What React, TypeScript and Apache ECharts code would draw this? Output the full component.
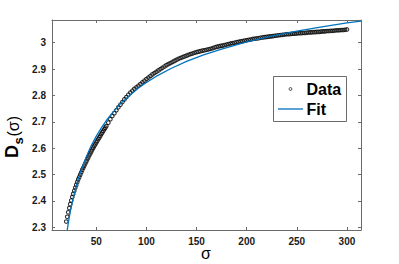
import React, { useEffect, useRef } from "react";
import * as echarts from "echarts";

const sigmaTicks = [50, 100, 150, 200, 250, 300];
const dsTicks = [2.3, 2.4, 2.5, 2.6, 2.7, 2.8, 2.9, 3.0];

// Data: sigma 20..60, step 1
const dataFineStart = 20;
const dataFineStep = 1;
const dataFineValues = [
  2.322, 2.34, 2.357, 2.373, 2.388, 2.402, 2.415, 2.427, 2.439, 2.45,
  2.461, 2.472, 2.482, 2.491, 2.5, 2.509, 2.518, 2.526, 2.534, 2.542,
  2.55, 2.558, 2.565, 2.573, 2.58, 2.588, 2.595, 2.602, 2.609, 2.615,
  2.622, 2.628, 2.635, 2.641, 2.647, 2.654, 2.66, 2.666, 2.672, 2.678,
  2.684,
];

// Data: sigma 62..300, step 2
const dataCoarseStart = 62;
const dataCoarseStep = 2;
const dataCoarseValues = [
  2.697, 2.71, 2.722, 2.733, 2.744, 2.755, 2.765, 2.775, 2.785, 2.794,
  2.803, 2.811, 2.818, 2.825, 2.831, 2.837, 2.843, 2.85, 2.856, 2.862,
  2.868, 2.874, 2.88, 2.885, 2.89, 2.895, 2.9, 2.905, 2.91, 2.915,
  2.919, 2.923, 2.927, 2.931, 2.935, 2.939, 2.942, 2.945, 2.948, 2.951,
  2.954, 2.957, 2.959, 2.962, 2.964, 2.966, 2.968, 2.97, 2.971, 2.973,
  2.975, 2.977, 2.979, 2.982, 2.984, 2.986, 2.988, 2.989, 2.991, 2.993,
  2.995, 2.997, 2.998, 3.0, 3.002, 3.003, 3.005, 3.006, 3.008, 3.009,
  3.011, 3.012, 3.014, 3.015, 3.016, 3.017, 3.019, 3.02, 3.021, 3.022,
  3.023, 3.024, 3.025, 3.026, 3.027, 3.028, 3.029, 3.03, 3.031, 3.032,
  3.032, 3.033, 3.034, 3.034, 3.035, 3.036, 3.036, 3.037, 3.037, 3.038,
  3.039, 3.039, 3.04, 3.04, 3.041, 3.041, 3.042, 3.043, 3.043, 3.044,
  3.044, 3.045, 3.045, 3.046, 3.047, 3.047, 3.048, 3.048, 3.049, 3.05,
];

// Fit curve
const fitSigma = [
  21, 22, 24, 26, 28, 30, 33, 36, 40, 45, 50, 55, 60, 66, 74, 82, 92, 100,
  110, 125, 140, 157, 175, 200, 225, 250, 275, 300, 314,
];
const fitValues = [
  2.29, 2.315, 2.36, 2.395, 2.427, 2.456, 2.495, 2.528, 2.568, 2.61, 2.646,
  2.677, 2.705, 2.734, 2.768, 2.796, 2.828, 2.849, 2.873, 2.903, 2.929,
  2.954, 2.976, 3.003, 3.025, 3.044, 3.06, 3.075, 3.082,
];

const FONT = "'Liberation Sans', Arial, Helvetica, sans-serif";
const FRAME = "#6b6b6b";
const BLUE = "#0072BD";

export default function App() {
  const ref = useRef<HTMLDivElement>(null);

  useEffect(() => {
    if (!ref.current) return;
    const chart = echarts.init(ref.current, null, { renderer: "svg" });

    const dataPoints: number[][] = [];
    dataFineValues.forEach((v, i) =>
      dataPoints.push([dataFineStart + i * dataFineStep, v])
    );
    dataCoarseValues.forEach((v, i) =>
      dataPoints.push([dataCoarseStart + i * dataCoarseStep, v])
    );
    const fitPoints = fitSigma.map((s, i) => [s, fitValues[i]]);

    const xMin = 5.8;
    const xMax = 314;
    const yMin = 2.29;
    const yMax = 3.086;

    const xCommon = {
      type: "value" as const,
      min: xMin,
      max: xMax,
      splitLine: { show: false },
      axisLine: { show: true, lineStyle: { color: FRAME, width: 1 } },
      axisTick: {
        show: true,
        inside: true,
        length: 3,
        customValues: sigmaTicks,
        lineStyle: { color: FRAME, width: 1 },
      },
    };
    const yCommon = {
      type: "value" as const,
      min: yMin,
      max: yMax,
      splitLine: { show: false },
      axisLine: { show: true, lineStyle: { color: FRAME, width: 1 } },
      axisTick: {
        show: true,
        inside: true,
        length: 3,
        customValues: dsTicks,
        lineStyle: { color: FRAME, width: 1 },
      },
    };

    chart.setOption({
      animation: false,
      backgroundColor: "#ffffff",
      grid: { left: 52, right: 38, top: 20, bottom: 34, containLabel: false },
      xAxis: [
        {
          ...xCommon,
          position: "bottom",
          axisLabel: {
            show: true,
            customValues: sigmaTicks,
            margin: 6,
            color: "#1a1a1a",
            fontFamily: FONT,
            fontWeight: "bold",
            fontSize: 10,
          },
        },
        {
          ...xCommon,
          position: "top",
          axisLabel: { show: false },
        },
      ],
      yAxis: [
        {
          ...yCommon,
          position: "left",
          axisLabel: {
            show: true,
            customValues: dsTicks,
            margin: 6,
            color: "#1a1a1a",
            fontFamily: FONT,
            fontWeight: "bold",
            fontSize: 10,
            formatter: (v: number) => String(Math.round(v * 10) / 10),
          },
        },
        {
          ...yCommon,
          position: "right",
          axisLabel: { show: false },
        },
      ],
      series: [
        {
          name: "Data",
          type: "scatter",
          xAxisIndex: 0,
          yAxisIndex: 0,
          data: dataPoints,
          symbol: "circle",
          symbolSize: 3.6,
          itemStyle: {
            color: "rgba(0,0,0,0)",
            borderColor: "#000000",
            borderWidth: 1.1,
          },
          z: 2,
        },
        {
          name: "Fit",
          type: "line",
          xAxisIndex: 0,
          yAxisIndex: 0,
          data: fitPoints,
          showSymbol: false,
          symbol: "none",
          smooth: false,
          lineStyle: { color: BLUE, width: 1.3 },
          z: 3,
        },
      ],
      graphic: [
        {
          type: "rect",
          shape: { x: 273.5, y: 76.5, width: 73, height: 45 },
          style: { fill: "#ffffff", stroke: FRAME, lineWidth: 1 },
          z: 10,
        },
        {
          type: "circle",
          shape: { cx: 290.5, cy: 89, r: 1.4 },
          style: { fill: "none", stroke: "#111111", lineWidth: 0.8 },
          z: 11,
        },
        {
          type: "line",
          shape: { x1: 278, y1: 109, x2: 303, y2: 109 },
          style: { stroke: BLUE, lineWidth: 1.3 },
          z: 11,
        },
        {
          type: "text",
          x: 306.5,
          y: 89,
          style: {
            text: "Data",
            fill: "#000000",
            font: `bold 16px ${FONT}`,
            textAlign: "left",
            textVerticalAlign: "middle",
          },
          z: 11,
        },
        {
          type: "text",
          x: 306.5,
          y: 109,
          style: {
            text: "Fit",
            fill: "#000000",
            font: `bold 16px ${FONT}`,
            textAlign: "left",
            textVerticalAlign: "middle",
          },
          z: 11,
        },
        {
          type: "text",
          x: 206,
          y: 253,
          style: {
            text: "σ",
            fill: "#000000",
            font: `16px ${FONT}`,
            textAlign: "center",
            textVerticalAlign: "middle",
          },
        },
        {
          type: "group",
          x: 12,
          y: 158,
          rotation: Math.PI / 2,
          children: [
            {
              type: "text",
              x: 0,
              y: 0,
              style: {
                text: "D",
                fill: "#000000",
                font: `bold 18px ${FONT}`,
                textAlign: "left",
                textVerticalAlign: "middle",
              },
            },
            {
              type: "text",
              x: 13.5,
              y: 6,
              style: {
                text: "s",
                fill: "#000000",
                font: `bold 13px ${FONT}`,
                textAlign: "left",
                textVerticalAlign: "middle",
              },
            },
            {
              type: "text",
              x: 21.5,
              y: 1,
              style: {
                text: "(σ)",
                fill: "#000000",
                font: `16px ${FONT}`,
                textAlign: "left",
                textVerticalAlign: "middle",
              },
            },
          ],
        },
      ],
    });

    return () => {
      chart.dispose();
    };
  }, []);

  return (
    <div
      ref={ref}
      style={{
        position: "absolute",
        left: 0,
        top: 0,
        width: 399,
        height: 264,
        background: "#ffffff",
      }}
    />
  );
}
